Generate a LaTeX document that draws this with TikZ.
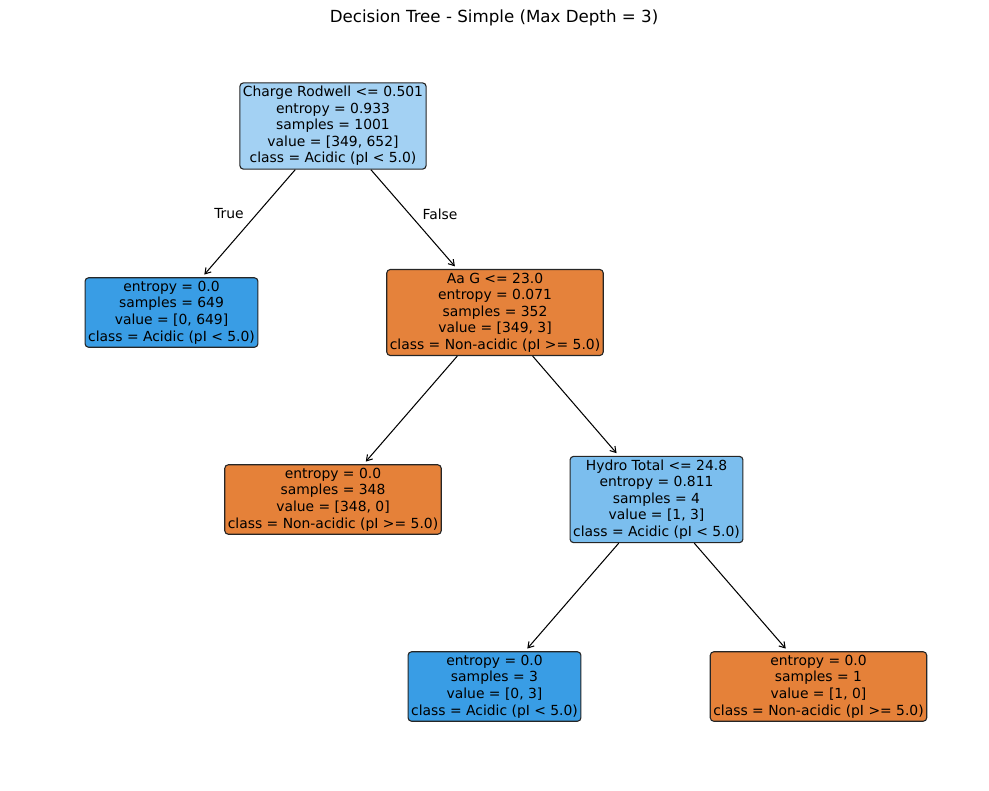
\documentclass[tikz,border=0pt]{standalone}
\usepackage{fontspec}
\setmainfont{DejaVu Sans}
\usetikzlibrary{arrows.meta}
\definecolor{orangeleaf}{HTML}{E58139}
\definecolor{orangemix}{HTML}{E5823B}
\definecolor{blueleaf}{HTML}{399DE5}
\definecolor{bluelight}{HTML}{A3D1F3}
\definecolor{bluemid}{HTML}{7BBEEE}
\begin{document}
\begin{tikzpicture}[x=0.72pt,y=-0.72pt,
  treebox/.style={draw=black!85, rounded corners=2.5pt, align=center,
    font=\fontsize{10}{11.9}\selectfont, inner xsep=2.2pt, inner ysep=2.4pt, line width=0.8pt},
  edge/.style={draw=black, line width=0.75pt, -{Straight Barb[length=4pt,width=5pt]}, shorten >=2.5pt},
  elabel/.style={font=\fontsize{10}{12}\selectfont}]
\useasboundingbox (0,0) rectangle (989,790);
\node[font=\fontsize{12}{14}\selectfont] (title) at (494,18) {Decision Tree - Simple (Max Depth = 3)};
\node[treebox, fill=bluelight] (root) at (333,126) {Charge Rodwell <= 0.501\\entropy = 0.933\\samples = 1001\\value = [349, 652]\\class = Acidic (pI < 5.0)};
\node[treebox, fill=blueleaf] (l1) at (171.5,312.5) {entropy = 0.0\\samples = 649\\value = [0, 649]\\class = Acidic (pI < 5.0)};
\node[treebox, fill=orangemix] (aag) at (495,312.5) {Aa G <= 23.0\\entropy = 0.071\\samples = 352\\value = [349, 3]\\class = Non-acidic (pI >= 5.0)};
\node[treebox, fill=orangeleaf] (l2) at (333,499.5) {entropy = 0.0\\samples = 348\\value = [348, 0]\\class = Non-acidic (pI >= 5.0)};
\node[treebox, fill=bluemid] (hydro) at (656.5,499.5) {Hydro Total <= 24.8\\entropy = 0.811\\samples = 4\\value = [1, 3]\\class = Acidic (pI < 5.0)};
\node[treebox, fill=blueleaf] (l3) at (494.5,686.5) {entropy = 0.0\\samples = 3\\value = [0, 3]\\class = Acidic (pI < 5.0)};
\node[treebox, fill=orangeleaf] (l4) at (818.5,686.5) {entropy = 0.0\\samples = 1\\value = [1, 0]\\class = Non-acidic (pI >= 5.0)};
\draw[edge] (root) -- (l1);
\draw[edge] (root) -- (aag);
\draw[edge] (aag) -- (l2);
\draw[edge] (aag) -- (hydro);
\draw[edge] (hydro) -- (l3);
\draw[edge] (hydro) -- (l4);
\node[elabel] (ltrue) at (229,214) {True};
\node[elabel] (lfalse) at (440,214) {False};
\end{tikzpicture}
\end{document}
